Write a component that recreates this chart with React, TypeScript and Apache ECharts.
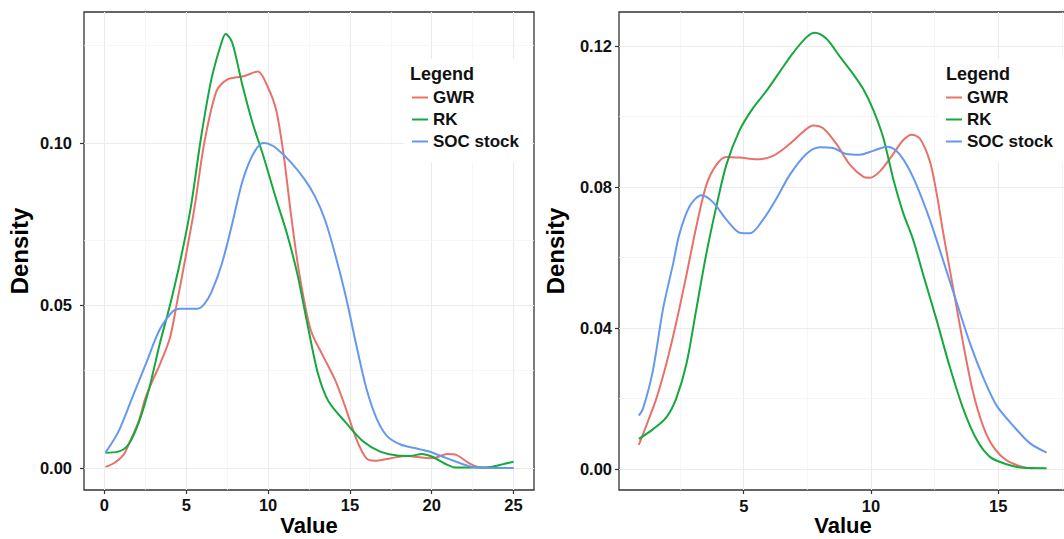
import React, { useEffect, useRef } from "react";
import * as echarts from "echarts";

// ---------- data (x, density) ----------
const seriesNames = ["GWR", "RK", "SOC stock"];
const seriesColors = ["#E8716A", "#16A83E", "#6598EE"];

const leftGWR: [number, number][] = [
  [0.06, 0.0003], [0.6, 0.0015], [1.16, 0.004], [1.5, 0.0075], [2.1, 0.0145], [2.5, 0.0215], [3, 0.0275],
  [3.4, 0.032], [4, 0.040], [4.4, 0.05], [5, 0.066], [5.5, 0.08], [6.1, 0.10], [6.85, 0.116],
  [7.5, 0.1195], [8.5, 0.1205], [9.37, 0.122], [10, 0.117], [10.5, 0.110], [10.95, 0.0963],
  [11.4, 0.078], [11.9, 0.060], [12.6, 0.0425], [13.3, 0.035], [14.1, 0.027], [14.7, 0.019],
  [15.4, 0.0088], [16, 0.003], [16.5, 0.0022], [17.5, 0.003], [18.5, 0.0037], [19.8, 0.003],
  [20.2, 0.0031], [20.95, 0.0043], [21.5, 0.004], [22.3, 0.0014], [23, 0.0001], [24, 0], [25, 0],
];
const leftRK: [number, number][] = [
  [0.06, 0.0047], [0.84, 0.005], [1.47, 0.0072], [2.1, 0.014], [2.74, 0.0246], [3.37, 0.038],
  [4.0, 0.050], [4.63, 0.0636], [5.27, 0.080], [5.9, 0.1016], [6.53, 0.1195], [7.16, 0.131],
  [7.41, 0.1335], [7.8, 0.131], [8.42, 0.118], [9.06, 0.106], [9.69, 0.0963], [10.5, 0.0826],
  [11.16, 0.072], [11.8, 0.0594], [12.43, 0.0436], [13.06, 0.0288], [13.7, 0.0204], [14.74, 0.014],
  [15.8, 0.0082], [16.85, 0.005], [17.9, 0.0038], [18.7, 0.0037], [19.4, 0.0043], [20.0, 0.0035],
  [20.85, 0.0012], [21.5, 0.0001], [22.7, 0.0001], [23.6, 0.0003], [24.4, 0.0012], [25, 0.0019],
];
const leftSOC: [number, number][] = [
  [0.06, 0.0047], [0.84, 0.011], [1.68, 0.0214], [2.53, 0.032], [3.37, 0.0425], [4.2, 0.0483],
  [4.63, 0.049], [5.69, 0.049], [6.1, 0.0504], [6.53, 0.054], [7.16, 0.0626], [7.8, 0.075],
  [8.42, 0.088], [9.06, 0.0963], [9.69, 0.100], [10.0, 0.0998], [10.5, 0.0984], [11.37, 0.0942],
  [12.2, 0.089], [12.85, 0.0837], [13.48, 0.0763], [14.1, 0.0657], [14.74, 0.053], [15.37, 0.0383],
  [16.0, 0.0246], [16.64, 0.0151], [17.27, 0.0098], [18.1, 0.0072], [18.95, 0.0061], [19.8, 0.0051],
  [20.64, 0.0035], [21.5, 0.0019], [22.3, 0.0005], [22.96, 0.0001], [24, 0], [25, 0],
];

const rightGWR: [number, number][] = [
  [0.88, 0.0068], [1.17, 0.0122], [1.57, 0.020], [1.96, 0.0298], [2.35, 0.0415], [2.75, 0.055],
  [3.14, 0.0688], [3.53, 0.0805], [3.93, 0.0863], [4.32, 0.0885], [4.84, 0.0883], [5.5, 0.0878],
  [6.15, 0.0888], [6.81, 0.0922], [7.33, 0.0956], [7.73, 0.0974], [8.12, 0.0966], [8.64, 0.0922],
  [9.17, 0.0863], [9.69, 0.0829], [9.95, 0.0826], [10.35, 0.0844], [10.87, 0.0893], [11.26, 0.0932],
  [11.6, 0.0948], [11.92, 0.0937], [12.31, 0.0873], [12.57, 0.0785], [12.84, 0.0668], [13.23, 0.0512],
  [13.62, 0.0356], [14.0, 0.022], [14.4, 0.0122], [14.8, 0.0063], [15.33, 0.0024], [15.98, 0.0005],
  [16.37, 0.0002],
];
const rightRK: [number, number][] = [
  [0.88, 0.0085], [1.43, 0.0112], [1.96, 0.0146], [2.35, 0.020], [2.75, 0.0298], [3.14, 0.0454],
  [3.53, 0.061], [3.93, 0.0746], [4.32, 0.0863], [4.84, 0.0961], [5.37, 0.1024], [5.9, 0.1073],
  [6.42, 0.1127], [6.94, 0.1180], [7.46, 0.1224], [7.79, 0.1237], [8.25, 0.1220], [8.77, 0.117],
  [9.3, 0.112], [9.69, 0.1078], [10.08, 0.102], [10.48, 0.094], [10.87, 0.0824], [11.26, 0.0727],
  [11.66, 0.0649], [12.05, 0.0551], [12.57, 0.0424], [13.1, 0.0288], [13.62, 0.0171], [14.15, 0.0083],
  [14.67, 0.0034], [15.33, 0.0013], [15.98, 0.0003], [16.9, 0.0002],
];
const rightSOC: [number, number][] = [
  [0.88, 0.0151], [1.04, 0.017], [1.43, 0.0278], [1.83, 0.0454], [2.22, 0.058], [2.48, 0.0668],
  [2.88, 0.0746], [3.34, 0.0776], [3.8, 0.0756], [4.32, 0.0707], [4.84, 0.067], [5.24, 0.0668],
  [5.76, 0.0707], [6.28, 0.0766], [6.81, 0.0834], [7.46, 0.0893], [7.99, 0.0912], [8.51, 0.091],
  [9.04, 0.0893], [9.56, 0.0891], [10.08, 0.0902], [10.61, 0.0914], [11.0, 0.0902], [11.4, 0.0863],
  [11.79, 0.0805], [12.31, 0.0707], [12.84, 0.059], [13.36, 0.0473], [13.89, 0.0356], [14.41, 0.0259],
  [14.93, 0.018], [15.59, 0.0122], [16.24, 0.0073], [16.9, 0.0046],
];

// ---------- tick labels / gridlines ----------
const leftXTicks = [0, 5, 10, 15, 20, 25];
const leftXMinor = [2.5, 7.5, 12.5, 17.5, 22.5];
const leftYTicks = [0, 0.05, 0.1];
const leftYMinor = [0.025, 0.075, 0.125];
const rightXTicks = [5, 10, 15];
const rightXMinor = [2.5, 7.5, 12.5, 17.5];
const rightYTicks = [0, 0.04, 0.08, 0.12];
const rightYMinor = [0.02, 0.06, 0.1];

const FONT = "'Liberation Sans', Arial, sans-serif";

export default function App() {
  const ref = useRef<HTMLDivElement>(null);
  useEffect(() => {
    if (!ref.current) return;
    const chart = echarts.init(ref.current, undefined, { renderer: "svg" });

    const gridSeries = (idx: number, xMaj: number[], xMin: number[], yMaj: number[], yMin: number[]) => ({
      type: "line",
      name: "grid" + idx,
      xAxisIndex: idx,
      yAxisIndex: idx,
      data: [],
      silent: true,
      z: 1,
      markLine: {
        silent: true,
        z: 1,
        symbol: ["none", "none"],
        label: { show: false },
        emphasis: { disabled: true },
        animation: false,
        data: [
          ...xMaj.map((v) => ({ xAxis: v, lineStyle: { color: "#EBEBEB", width: 1.1, type: "solid" } })),
          ...xMin.map((v) => ({ xAxis: v, lineStyle: { color: "#F2F2F2", width: 0.7, type: "solid" } })),
          ...yMaj.map((v) => ({ yAxis: v, lineStyle: { color: "#EBEBEB", width: 1.1, type: "solid" } })),
          ...yMin.map((v) => ({ yAxis: v, lineStyle: { color: "#F2F2F2", width: 0.7, type: "solid" } })),
        ],
      },
    });

    const curve = (idx: number, k: number, data: [number, number][]) => ({
      type: "line",
      name: seriesNames[k],
      xAxisIndex: idx,
      yAxisIndex: idx,
      data,
      showSymbol: false,
      smooth: 0.3,
      z: 3,
      lineStyle: { color: seriesColors[k], width: 2 },
      itemStyle: { color: seriesColors[k] },
    });

    const xAxis = (idx: number, min: number, max: number, ticks: number[], margin: number) => ({
      type: "value",
      gridIndex: idx,
      min,
      max,
      name: "Value",
      nameLocation: "middle",
      nameGap: 25,
      nameMoveOverlap: false,
      nameTextStyle: { fontFamily: FONT, fontSize: 22, fontWeight: "bold", color: "#000", lineHeight: 20 },
      axisLine: { show: false, onZero: false },
      axisTick: { show: true, customValues: ticks, length: 4, lineStyle: { color: "#333", width: 1.2 } },
      axisLabel: {
        customValues: ticks,
        margin,
        fontFamily: FONT,
        fontSize: 16.5,
        lineHeight: 17,
        fontWeight: "bold",
        color: "#111",
        formatter: (v: number) => String(v),
      },
      splitLine: { show: false },
    });

    const yAxis = (idx: number, min: number, max: number, ticks: number[], margin: number, gap: number) => ({
      type: "value",
      gridIndex: idx,
      min,
      max,
      name: "Density",
      nameLocation: "middle",
      nameGap: gap,
      nameTextStyle: { fontFamily: FONT, fontSize: 24, fontWeight: "bold", color: "#000" },
      axisLine: { show: false, onZero: false },
      axisTick: { show: true, customValues: ticks, length: 4, lineStyle: { color: "#333", width: 1.2 } },
      axisLabel: {
        customValues: ticks,
        margin,
        fontFamily: FONT,
        fontSize: 16.5,
        fontWeight: "bold",
        color: "#111",
        formatter: (v: number) => v.toFixed(2),
      },
      splitLine: { show: false },
    });

    const legend = (left: number, padRight: number) => ({
      orient: "vertical",
      left,
      top: 59,
      data: seriesNames,
      icon: "rect",
      itemWidth: 16,
      itemHeight: 2,
      itemGap: 5,
      selectedMode: false,
      backgroundColor: "#fff",
      padding: [30, padRight, 12, 8],
      textStyle: { fontFamily: FONT, fontSize: 17, fontWeight: "bold", color: "#111", lineHeight: 16.5 },
      z: 5,
    });

    const title = (left: number) => ({
      text: "Legend",
      left,
      top: 65,
      padding: 0,
      z: 8,
      textStyle: { fontFamily: FONT, fontSize: 18, fontWeight: "bold", color: "#111" },
    });

    const gridBase = {
      top: 12,
      height: 478,
      show: true,
      borderColor: "#333",
      borderWidth: 1.3,
      backgroundColor: "transparent",
      containLabel: false,
      outerBoundsMode: "none",
    };

    chart.setOption({
      animation: false,
      backgroundColor: "#fff",
      title: [title(410), title(946)],
      legend: [legend(404, 12), legend(938, 30)],
      grid: [
        { ...gridBase, left: 84, width: 450 },
        { ...gridBase, left: 619, width: 448 },
      ],
      xAxis: [xAxis(0, -1.25, 26.25, leftXTicks, 6), xAxis(1, 0.1, 17.7, rightXTicks, 7)],
      yAxis: [yAxis(0, -0.0068, 0.1403, leftYTicks, 12, 53), yAxis(1, -0.006, 0.1296, rightYTicks, 7, 52)],
      series: [
        gridSeries(0, leftXTicks, leftXMinor, leftYTicks, leftYMinor),
        gridSeries(1, rightXTicks, rightXMinor, rightYTicks, rightYMinor),
        curve(0, 0, leftGWR),
        curve(0, 1, leftRK),
        curve(0, 2, leftSOC),
        curve(1, 0, rightGWR),
        curve(1, 1, rightRK),
        curve(1, 2, rightSOC),
      ],
    });
    return () => chart.dispose();
  }, []);

  return (
    <div
      ref={ref}
      style={{ position: "absolute", left: 0, top: 0, width: 1064, height: 539, overflow: "hidden", background: "#fff" }}
    />
  );
}
